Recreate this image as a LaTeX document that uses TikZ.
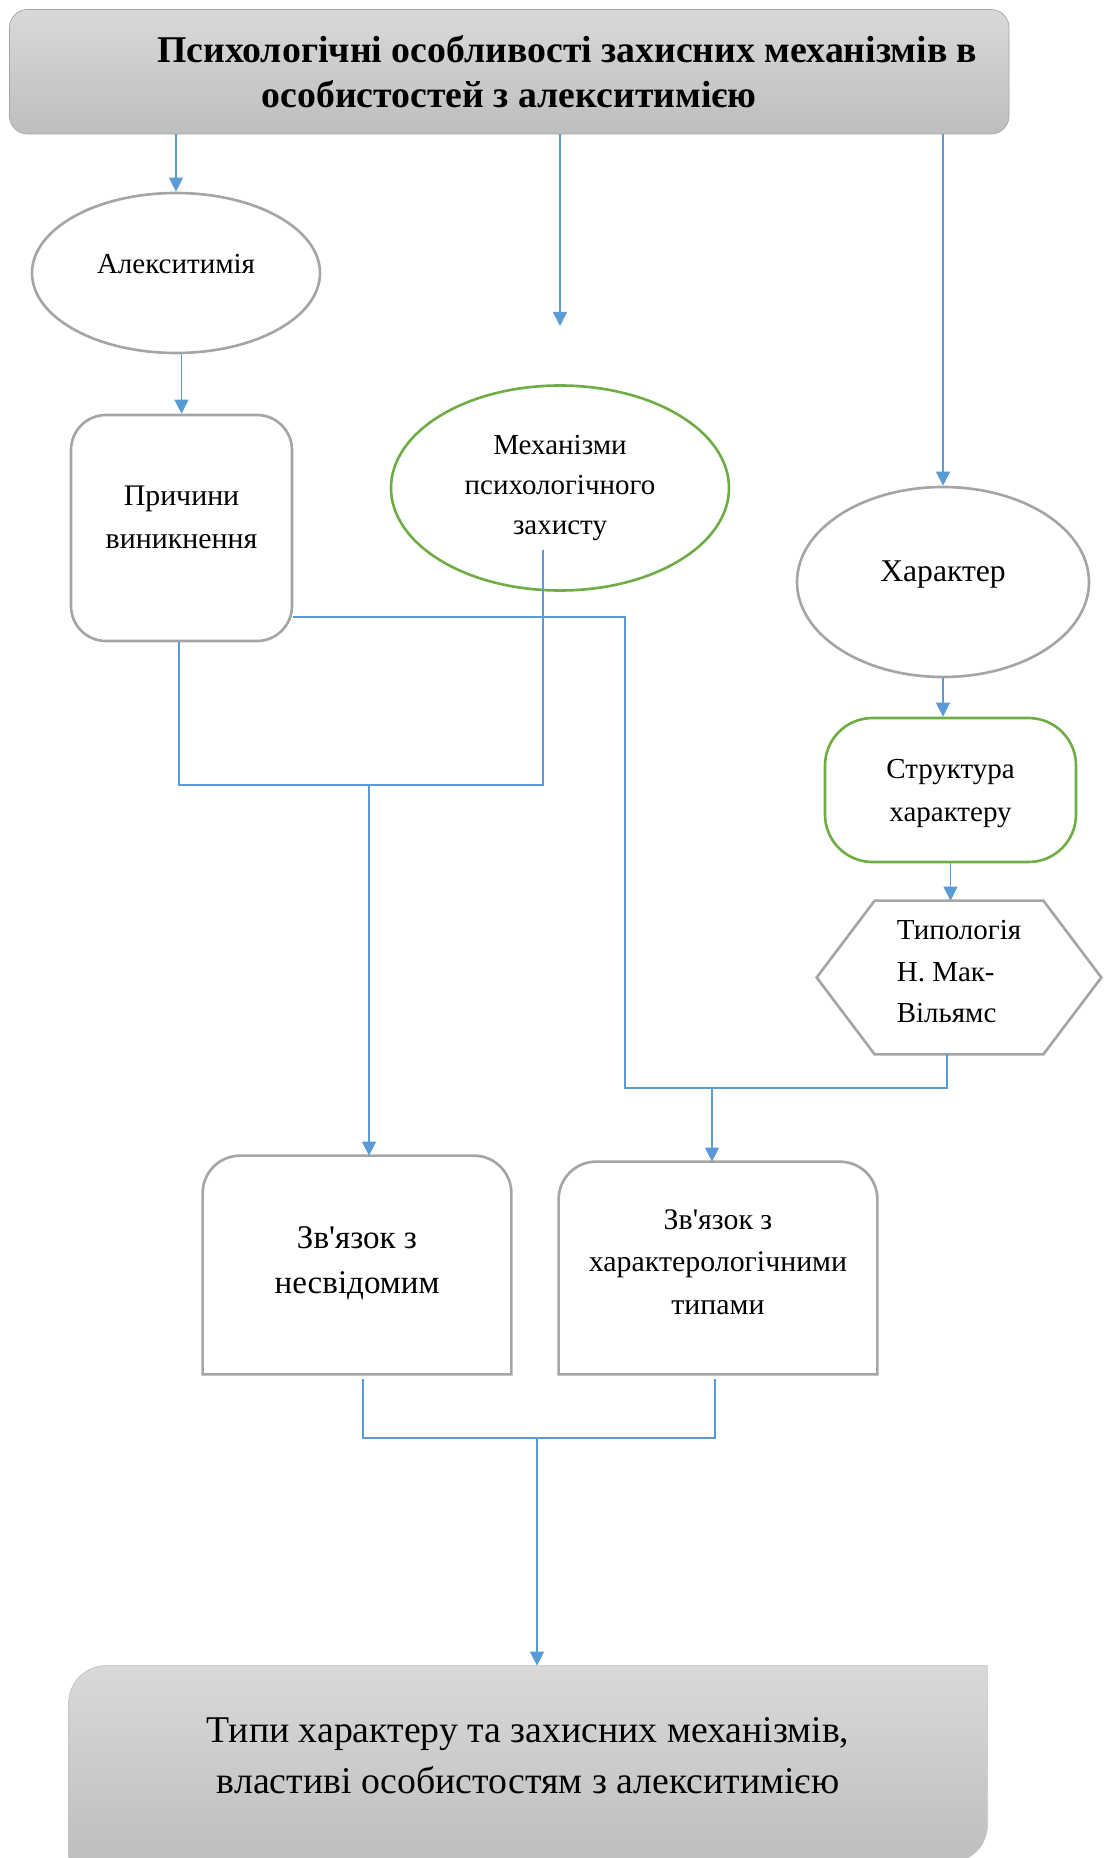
\documentclass[tikz,border=0pt]{standalone}
\usepackage{fontspec}
\setmainfont{Liberation Serif}[Ligatures=TeXOff]
\usepackage{tikz}
\usepackage{xcolor}
\usetikzlibrary{shapes.geometric, arrows.meta, positioning, backgrounds}
\definecolor{linkblue}{RGB}{91, 155, 213}
\definecolor{framegrey}{RGB}{165, 165, 165}
\definecolor{framegreen}{RGB}{112, 173, 71}
\definecolor{boxtop}{RGB}{217, 217, 217}
\definecolor{boxbottom}{RGB}{190, 190, 190}
\tikzstyle{titlenode} = [rectangle, rounded corners=0.36cm, minimum width=19.99cm, minimum height=2.49cm, align=center, draw=framegrey, top color=boxtop, bottom color=boxbottom, font=\fontsize{21.5}{25.6}\selectfont\bfseries]
\tikzstyle{greyellipse} = [ellipse, draw=framegrey, line width=1.5pt, align=center, font=\fontsize{16.5}{22.8}\selectfont]
\tikzstyle{greenellipse} = [greyellipse, draw=framegreen]
\tikzstyle{roundnode} = [rectangle, rounded corners=0.7cm, draw=framegrey, line width=1.5pt, align=center, font=\fontsize{17}{25}\selectfont]
\tikzstyle{capsulenode} = [rectangle, rounded corners=0.95cm, draw=framegreen, line width=1.5pt, align=center, font=\fontsize{16.5}{24}\selectfont]
\tikzstyle{hexnode} = [rectangle, minimum width=5.68cm, minimum height=3.06cm, align=left, font=\fontsize{16.5}{23.6}\selectfont]
\tikzstyle{tabnode} = [rectangle, align=center]
\tikzstyle{resultnode} = [rectangle, align=center, font=\fontsize{21.5}{29}\selectfont]
\tikzstyle{greyframe} = [draw=framegrey, line width=1.5pt]
\tikzstyle{arrow} = [line width=0.7pt, draw=linkblue, -{Triangle[length=8pt, width=8pt]}]
\tikzstyle{joinline} = [line width=0.7pt, draw=linkblue]

\begin{document}
\begin{tikzpicture}
\useasboundingbox (0,0) rectangle (22.12,-37.16);

% top block
\node[titlenode] (title) at (10.185,-1.435) {\hspace*{2.32cm}Психологічні особливості захисних механізмів в\\особистостей з алекситимією};

% left column
\node[greyellipse, minimum width=5.76cm, minimum height=3.2cm, text depth=0.38cm] (alexith) at (3.52,-5.46) {Алекситимія};
\node[roundnode, minimum width=4.42cm, minimum height=4.52cm, text depth=0.43cm] (causes) at (3.63,-10.56) {Причини\\виникнення};

% middle column
\coordinate (midend) at (11.2,-6.52);
\node[greenellipse, minimum width=6.76cm, minimum height=4.1cm] (defense) at (11.2,-9.76) {Механізми\\психологічного\\захисту};
\coordinate (defin) at (10.86,-11.0);

% right column
\node[greyellipse, minimum width=5.84cm, minimum height=3.8cm, text depth=0.42cm, font=\fontsize{18}{22}\selectfont] (character) at (18.86,-11.64) {Характер};
\node[capsulenode, minimum width=5.02cm, minimum height=2.88cm, text height=1.37cm] (structure) at (19.01,-15.8) {Структура\\характеру};
\node[hexnode, text depth=0.24cm] (typology) at (19.18,-19.55) {Типологія\\Н. Мак-\\Вільямс};
\draw[greyframe] ([xshift=1.16cm]typology.north west) -- ([xshift=-1.16cm]typology.north east) -- (typology.east)
    -- ([xshift=-1.16cm]typology.south east) -- ([xshift=1.16cm]typology.south west) -- (typology.west) -- cycle;

% links
\node[tabnode, minimum width=6.16cm, minimum height=4.36cm, text depth=0.2cm, font=\fontsize{18.8}{25.6}\selectfont] (unconscious) at (7.14,-25.3) {Зв'язок з\\несвідомим};
\draw[greyframe] (unconscious.south west) -- ([yshift=-0.75cm]unconscious.north west) arc[start angle=180, end angle=90, radius=0.75cm]
    -- ([xshift=-0.75cm]unconscious.north east) arc[start angle=90, end angle=0, radius=0.75cm] -- (unconscious.south east) -- cycle;
\node[tabnode, minimum width=6.36cm, minimum height=4.24cm, text depth=0.24cm, font=\fontsize{17}{24.3}\selectfont] (chartypes) at (14.36,-25.36) {Зв'язок з\\характерологічними\\типами};
\draw[greyframe] (chartypes.south west) -- ([yshift=-0.75cm]chartypes.north west) arc[start angle=180, end angle=90, radius=0.75cm]
    -- ([xshift=-0.75cm]chartypes.north east) arc[start angle=90, end angle=0, radius=0.75cm] -- (chartypes.south east) -- cycle;

% bottom block
\node[resultnode, minimum width=18.36cm, minimum height=3.92cm, text depth=0.33cm] (result) at (10.56,-35.28) {Типи характеру та захисних механізмів,\\властиві особистостям з алекситимією};
\begin{scope}[on background layer]
\shade[top color=boxtop, bottom color=boxbottom, draw=framegrey!70] ([xshift=0.75cm]result.north west) -- (result.north east)
    -- ([yshift=0.75cm]result.south east) arc[start angle=0, end angle=-90, radius=0.75cm] -- (result.south west)
    -- ([yshift=-0.75cm]result.north west) arc[start angle=180, end angle=90, radius=0.75cm] -- cycle;
\end{scope}

\coordinate (jleft) at (7.38,-15.7);
\coordinate (bend) at (12.5,-12.34);
\coordinate (jright) at (14.24,-21.76);
\coordinate (jbot) at (10.74,-28.76);

\draw[arrow] (title.south -| alexith.north) -- (alexith.north);
\draw[arrow] (title.south -| midend) -- (midend);
\draw[arrow] (title.south -| character.north) -- (character.north);
\draw[arrow] (alexith.south -| causes.north) -- (causes.north);
\draw[arrow] (character.south) -- (character.south |- structure.north);
\draw[arrow] (structure.south) -- (structure.south |- typology.north);

\draw[joinline] ([xshift=-0.05cm]causes.south) |- (defin |- jleft) -- (defin);
\draw[arrow] (jleft) -- (jleft |- unconscious.north);
\draw[joinline] (causes.east |- bend) -- (bend) |- (jright) -| ([xshift=-0.24cm]typology.south);
\draw[arrow] (jright) -- (jright |- chartypes.north);
\draw[joinline] ([xshift=0.12cm, yshift=-1mm]unconscious.south) |- (jbot) -| ([xshift=-0.06cm, yshift=-1mm]chartypes.south);
\draw[arrow] (jbot) -- (jbot |- result.north);
\end{tikzpicture}
\end{document}
